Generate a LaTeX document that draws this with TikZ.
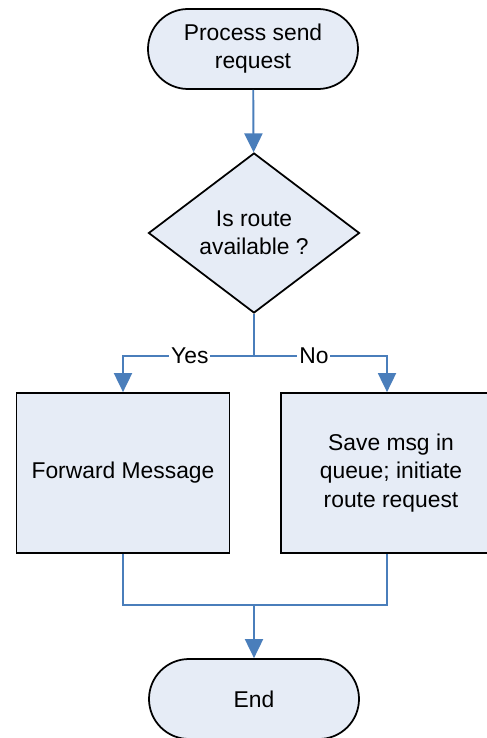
\documentclass[tikz,border=0pt]{standalone}
\usepackage{fontspec}
\setmainfont{Liberation Sans}
\usepackage{tikz}
\usetikzlibrary{shapes.geometric,arrows.meta}
\definecolor{boxfill}{RGB}{230,236,246}
\definecolor{linkblue}{RGB}{74,126,187}

\begin{document}
\begin{tikzpicture}[
    every node/.style={font=\fontsize{13}{16}\selectfont},
    terminal/.style={draw,line width=1pt,fill=boxfill,rounded corners=0.8cm,
        minimum width=4.2cm,minimum height=1.6cm,align=center},
    decision/.style={draw,line width=1pt,fill=boxfill,diamond,
        minimum width=4.22cm,minimum height=3.2cm,inner sep=0pt,align=center},
    process/.style={draw,line width=1pt,fill=boxfill,
        minimum width=4.26cm,minimum height=3.2cm,align=center},
    link/.style={linkblue,line width=1.1pt},
    tip/.style={-{Triangle[width=0.36cm,length=0.38cm]}},
    lbl/.style={fill=white,text=black,inner sep=1pt}
  ]
            \clip (0,0) rectangle (9.74,-14.76);

            \node[terminal] (start) at (5.06,-0.98) {Process send\\request};
            \node[decision] (route) at (5.08,-4.66) {Is route\\available ?};
            \node[process] (fwd) at (2.46,-9.46) {Forward Message};
            \node[process,minimum width=4.4cm] (save) at (7.82,-9.46) {Save msg in\\queue; initiate\\route request};
            \node[terminal] (end) at (5.08,-13.98) {End};

            \coordinate (split) at (5.08,-7.12);
            \coordinate (merge) at (5.08,-12.1);

            \draw [link,tip] (start) -- (route);
            \draw [link] (route.south) -- (split);
            \draw [link,tip] (split) -| node[lbl,pos=0.245]{Yes} (fwd.north);
            \draw [link,tip] (split) -| node[lbl,pos=0.225]{No} ([xshift=-0.08cm]save.north);
            % bottom join
            \draw [link] (fwd.south) |- (merge) -| ([xshift=-0.08cm]save.south);
            \draw [link,tip] (merge) -- (end);
        \end{tikzpicture}
\end{document}
